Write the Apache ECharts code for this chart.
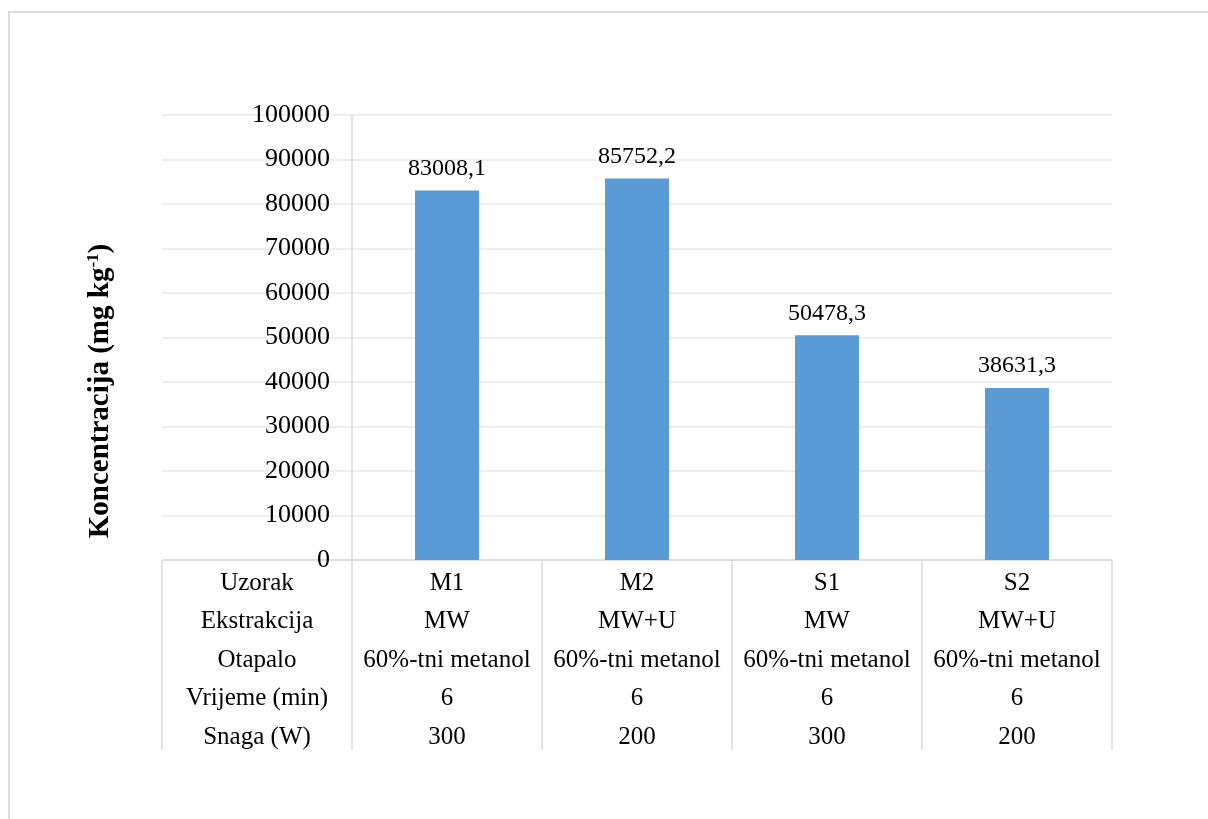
<!DOCTYPE html>
<html>
<head>
<meta charset="utf-8">
<script src="https://cdn.jsdelivr.net/npm/echarts@6/dist/echarts.min.js"></script>
<style>
html,body{margin:0;padding:0;background:#fff;}
#c{width:1208px;height:819px;}
</style>
</head>
<body>
<div id="c"></div>
<script>
const rowHeaders = ['Uzorak', 'Ekstrakcija', 'Otapalo', 'Vrijeme (min)', 'Snaga (W)'];
const samples = ['M1', 'M2', 'S1', 'S2'];
const extraction = ['MW', 'MW+U', 'MW', 'MW+U'];
const solvent = ['60%-tni metanol', '60%-tni metanol', '60%-tni metanol', '60%-tni metanol'];
const timeMin = ['6', '6', '6', '6'];
const power = ['300', '200', '300', '200'];
const values = [83008.1, 85752.2, 50478.3, 38631.3];
const yTicks = { min: 0, max: 100000, interval: 10000 };
const yTitle = 'Koncentracija (mg kg';
const yTitleSup = '-1';

const categories = [rowHeaders.join('\n')].concat(
  samples.map((s, i) => [s, extraction[i], solvent[i], timeMin[i], power[i]].join('\n'))
);
const barData = [null].concat(values);

const FONT = 'Liberation Serif';
const chart = echarts.init(document.getElementById('c'));
chart.setOption({
  animation: false,
  backgroundColor: '#fff',
  graphic: [{
    type: 'rect',
    shape: { x: 9, y: 12, width: 1300, height: 900 },
    style: { fill: 'none', stroke: '#d9d9d9', lineWidth: 2 },
    silent: true
  }, {
    type: 'text',
    x: 101, y: 391,
    rotation: Math.PI / 2,
    silent: true,
    style: {
      text: '{a|' + yTitle + '}{s|' + yTitleSup + '}{a|)}',
      align: 'center', verticalAlign: 'middle',
      rich: {
        a: { fontFamily: FONT, fontSize: 29, fontWeight: 'bold', fill: '#000' },
        s: { fontFamily: FONT, fontSize: 17, fontWeight: 'bold', fill: '#000', padding: [0, 0, 14, 0] }
      }
    }
  }],
  grid: { left: 162, right: 96, top: 115, bottom: 259 },
  xAxis: {
    type: 'category',
    data: categories,
    boundaryGap: true,
    axisLine: { show: true, lineStyle: { color: '#d9d9d9', width: 1.5 } },
    axisTick: { show: true, interval: 0, length: 190, lineStyle: { color: '#d9d9d9', width: 1.5 } },
    axisLabel: {
      interval: 0, margin: 4,
      fontFamily: FONT, fontSize: 25, color: '#000',
      lineHeight: 38.5, align: 'center', verticalAlign: 'top'
    },
    splitLine: { show: false }
  },
  yAxis: {
    type: 'value',
    min: yTicks.min, max: yTicks.max, interval: yTicks.interval,
    offset: -190,
    axisLine: { show: true, lineStyle: { color: '#d9d9d9', width: 1.5 } },
    axisTick: { show: false },
    axisLabel: { fontFamily: FONT, fontSize: 26, color: '#000', margin: 22, formatter: v => String(v) },
    splitLine: { show: true, lineStyle: { color: '#e8e8e8', width: 1.5 } }
  },
  series: [{
    type: 'bar',
    data: barData,
    barWidth: 64,
    itemStyle: { color: '#5b9bd5' },
    label: {
      show: true, position: 'top', distance: 10,
      fontFamily: FONT, fontSize: 24, color: '#000',
      formatter: p => p.value == null ? '' : p.value.toFixed(1).replace('.', ',')
    }
  }]
});
</script>
</body>
</html>
